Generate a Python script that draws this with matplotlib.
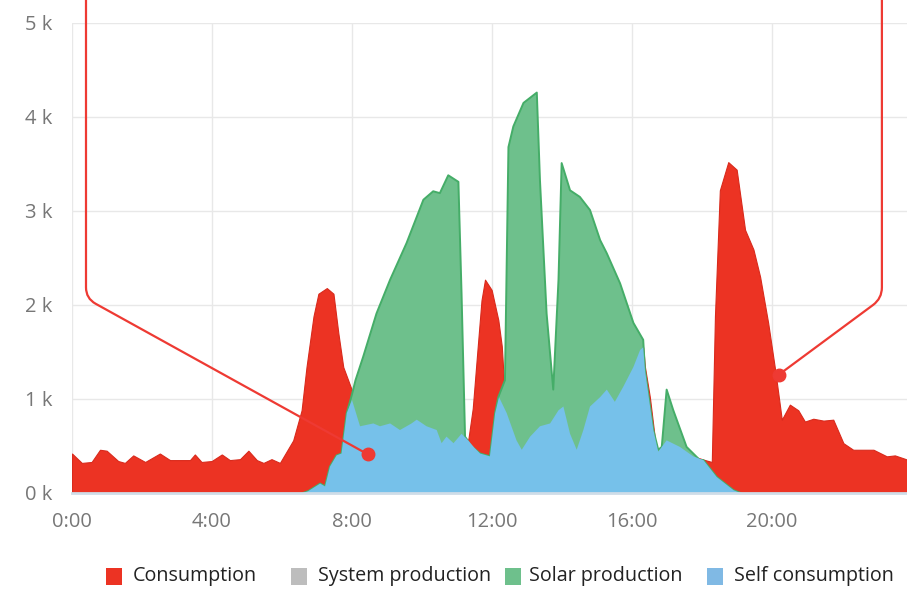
import matplotlib
matplotlib.use("Agg")
import matplotlib.pyplot as plt
from matplotlib.path import Path
from matplotlib.patches import PathPatch, Rectangle
import numpy as np

# ---------------- data (hours, kW) ----------------
cons_t = [0.0, 0.28, 0.56, 0.8, 0.99, 1.32, 1.51, 1.75, 2.09, 2.51, 2.8, 3.37, 3.51, 3.7,
          3.99, 4.28, 4.51, 4.8, 5.04, 5.28, 5.47, 5.7, 5.94, 6.13, 6.32, 6.56, 6.7, 6.9,
          7.04, 7.28, 7.47, 7.61, 7.75, 7.99, 8.23, 8.61, 8.8, 9.09, 9.37, 9.56, 9.7, 9.85,
          10.13, 10.42, 10.56, 10.7, 10.9, 11.13, 11.32, 11.45, 11.56, 11.7, 11.8, 11.99,
          12.18, 12.28, 12.37, 12.42, 12.7, 12.85, 13.09, 13.37, 13.66, 13.9, 14.04, 14.23,
          14.42, 14.61, 14.8, 15.09, 15.28, 15.51, 15.75, 16.04, 16.23, 16.32, 16.37, 16.51,
          16.66, 16.75, 16.99, 17.37, 17.75, 18.09, 18.28, 18.37, 18.51, 18.75, 18.99, 19.23,
          19.47, 19.66, 19.89, 20.09, 20.28, 20.51, 20.75, 20.94, 21.18, 21.47, 21.75, 22.04,
          22.32, 22.9, 23.28, 23.51, 23.75, 23.9]
cons_v = [0.42, 0.32, 0.33, 0.46, 0.45, 0.34, 0.32, 0.40, 0.33, 0.42, 0.35, 0.35, 0.41, 0.33,
          0.34, 0.41, 0.35, 0.36, 0.45, 0.35, 0.32, 0.36, 0.32, 0.44, 0.56, 0.88, 1.34, 1.88,
          2.12, 2.18, 2.12, 1.70, 1.34, 1.10, 0.71, 0.74, 0.71, 0.74, 0.67, 0.71, 0.74, 0.78,
          0.71, 0.67, 0.53, 0.60, 0.53, 0.63, 0.56, 0.90, 1.41, 2.05, 2.27, 2.16,
          1.84, 1.56, 1.00, 0.85, 0.56, 0.46, 0.60, 0.71, 0.74, 0.88, 0.92, 0.63,
          0.46, 0.67, 0.92, 1.02, 1.10, 0.97, 1.13, 1.34, 1.52, 1.55, 1.34, 1.02,
          0.56, 0.44, 0.56, 0.49, 0.39, 0.35, 0.33, 1.88, 3.22, 3.52, 3.44, 2.80,
          2.59, 2.30, 1.81, 1.31, 0.78, 0.94, 0.88, 0.76, 0.79, 0.77, 0.78, 0.53,
          0.46, 0.46, 0.39, 0.40, 0.37, 0.35]

solar_t = [6.6, 6.75, 7.09, 7.23, 7.37, 7.56, 7.7, 7.85, 8.0, 8.1, 8.32, 8.7, 9.09, 9.56,
           10.04, 10.32, 10.51, 10.75, 11.04, 11.13, 11.23, 11.4, 11.66, 11.94, 12.09, 12.18,
           12.37, 12.47, 12.61, 12.9, 13.28, 13.37, 13.56, 13.75, 13.9, 13.99, 14.23, 14.51,
           14.8, 15.09, 15.28, 15.66, 16.04, 16.32, 16.37, 16.61, 16.75, 16.85, 16.99, 17.18,
           17.56, 17.94, 18.04, 18.42, 18.9, 19.1]
solar_v = [0.0, 0.02, 0.10, 0.07, 0.28, 0.40, 0.42, 0.85, 1.05, 1.20, 1.45, 1.91, 2.27, 2.66,
           3.12, 3.21, 3.19, 3.38, 3.31, 2.12, 0.60, 0.50, 0.42, 0.39, 0.85, 1.02,
           1.20, 3.68, 3.90, 4.15, 4.26, 3.33, 1.91, 1.10, 2.27, 3.51, 3.22, 3.15,
           3.01, 2.69, 2.55, 2.23, 1.81, 1.63, 1.31, 0.67, 0.46, 0.49, 1.10, 0.88,
           0.49, 0.35, 0.35, 0.17, 0.03, 0.0]

self_t = [6.6, 6.75, 7.09, 7.23, 7.37, 7.56, 7.7, 7.85, 8.0, 8.23, 8.61, 8.8, 9.09, 9.37,
          9.56, 9.7, 9.85, 10.13, 10.42, 10.56, 10.7, 10.9, 11.13, 11.32, 11.5, 11.66, 11.94,
          12.09, 12.2, 12.42, 12.7, 12.85, 13.09, 13.37, 13.66, 13.9, 14.04, 14.23, 14.42,
          14.61, 14.8, 15.09, 15.28, 15.51, 15.75, 16.04, 16.23, 16.32, 16.37, 16.61, 16.75,
          16.99, 17.37, 17.75, 18.04, 18.42, 18.9, 19.1]
self_v = [0.0, 0.02, 0.10, 0.07, 0.28, 0.40, 0.42, 0.85, 0.99, 0.71, 0.74, 0.71, 0.74, 0.67,
          0.71, 0.74, 0.78, 0.71, 0.67, 0.53, 0.60, 0.53, 0.63, 0.56, 0.48, 0.42, 0.39,
          0.85, 1.02, 0.85, 0.56, 0.46, 0.60, 0.71, 0.74, 0.88, 0.92, 0.63, 0.46,
          0.67, 0.92, 1.02, 1.10, 0.97, 1.13, 1.34, 1.52, 1.55, 1.31, 0.67, 0.44,
          0.56, 0.49, 0.39, 0.35, 0.17, 0.03, 0.0]

x_ticks = [0, 4, 8, 12, 16, 20]
x_labels = ["0:00", "4:00", "8:00", "12:00", "16:00", "20:00"]
y_ticks = [0, 1, 2, 3, 4, 5]
y_labels = ["0 k", "1 k", "2 k", "3 k", "4 k", "5 k"]

legend_labels = ["Consumption", "System production", "Solar production", "Self consumption"]

# ---------------- style ----------------
RED = "#ec3323"
RED_EDGE = "#d92a1c"
GREEN = "#6ec08c"
GREEN_EDGE = "#45ad68"
BLUE = "#76c1ea"
GREY = "#bdbdbd"
CALLOUT = "#ee3a33"
FONT = ["Open Sans", "DejaVu Sans"]

W, H = 907, 589
fig = plt.figure(figsize=(W / 100, H / 100), dpi=100)
fig.patch.set_facecolor("white")

ax_left, ax_right, ax_top, ax_bottom = 72, 907, 23, 493
ax = fig.add_axes([ax_left / W, 1 - ax_bottom / H, (ax_right - ax_left) / W, (ax_bottom - ax_top) / H])
ax.set_xlim(0, (ax_right - ax_left) / 35.0)
ax.set_ylim(0, 5)
ax.set_facecolor("white")
for s in ax.spines.values():
    s.set_visible(False)

ax.set_xticks(x_ticks)
ax.set_xticklabels(x_labels)
ax.set_yticks(y_ticks)
ax.set_yticklabels(y_labels)
ax.tick_params(axis="both", length=0, colors="#777777", labelsize=14.5)
ax.tick_params(axis="x", pad=14)
ax.tick_params(axis="y", pad=14)
for lab in ax.get_xticklabels() + ax.get_yticklabels():
    lab.set_family(FONT)
ax.grid(True, color="#e8e8e8", linewidth=1.0, zorder=0)
ax.set_axisbelow(True)

# areas
ax.fill_between(cons_t, cons_v, 0, facecolor=RED, edgecolor=RED_EDGE, linewidth=0.8, zorder=2)
ax.fill_between(solar_t, solar_v, 0, facecolor=GREEN, edgecolor="none", zorder=3)
ax.plot(solar_t, solar_v, color=GREEN_EDGE, linewidth=1.4, zorder=3.5)
ax.fill_between(self_t, self_v, 0, facecolor=BLUE, edgecolor="none", zorder=4)
# system production (zero line) / axis line
ax.axhline(0, color="#cfdde8", linewidth=2.0, zorder=5, clip_on=False)

# ---------------- callout ----------------
def callout(corner, end, r_px=11):
    c = ax.transData.transform(corner)
    e = ax.transData.transform(end)
    d = e - c
    d = d / np.hypot(*d)
    p0 = c + np.array([0, r_px])
    p2 = c + d * r_px
    top = ax.transData.transform((corner[0], 7.0))
    pts = [top, p0, c, p2, e]
    inv = ax.transData.inverted()
    pts = [inv.transform(p) for p in pts]
    path = Path(pts, [Path.MOVETO, Path.LINETO, Path.CURVE3, Path.CURVE3, Path.LINETO])
    ax.add_patch(PathPatch(path, facecolor="none", edgecolor=CALLOUT, linewidth=1.6,
                           zorder=7, clip_on=False))
    ax.plot([end[0]], [end[1]], marker="o", markersize=9, color=CALLOUT, zorder=8, clip_on=False)

callout((0.4, 2.07), (8.46, 0.41))
callout((23.14, 2.07), (20.2, 1.26))

# ---------------- legend ----------------
leg_colors = [RED, GREY, GREEN, "#80b9e4"]
sq_x = [106, 291, 505, 707]
tx_x = [133, 318, 529, 734]
for col, sx, tx, lab in zip(leg_colors, sq_x, tx_x, legend_labels):
    fig.patches.append(Rectangle((sx / W, 1 - 585 / H), 16 / W, 17 / H,
                                 transform=fig.transFigure, facecolor=col, edgecolor="none"))
    fig.text(tx / W, 1 - 576.5 / H, lab, ha="left", va="center", fontsize=14.2,
             color="#222222", family=FONT)

fig.savefig("out.png", dpi=100, facecolor="white")
